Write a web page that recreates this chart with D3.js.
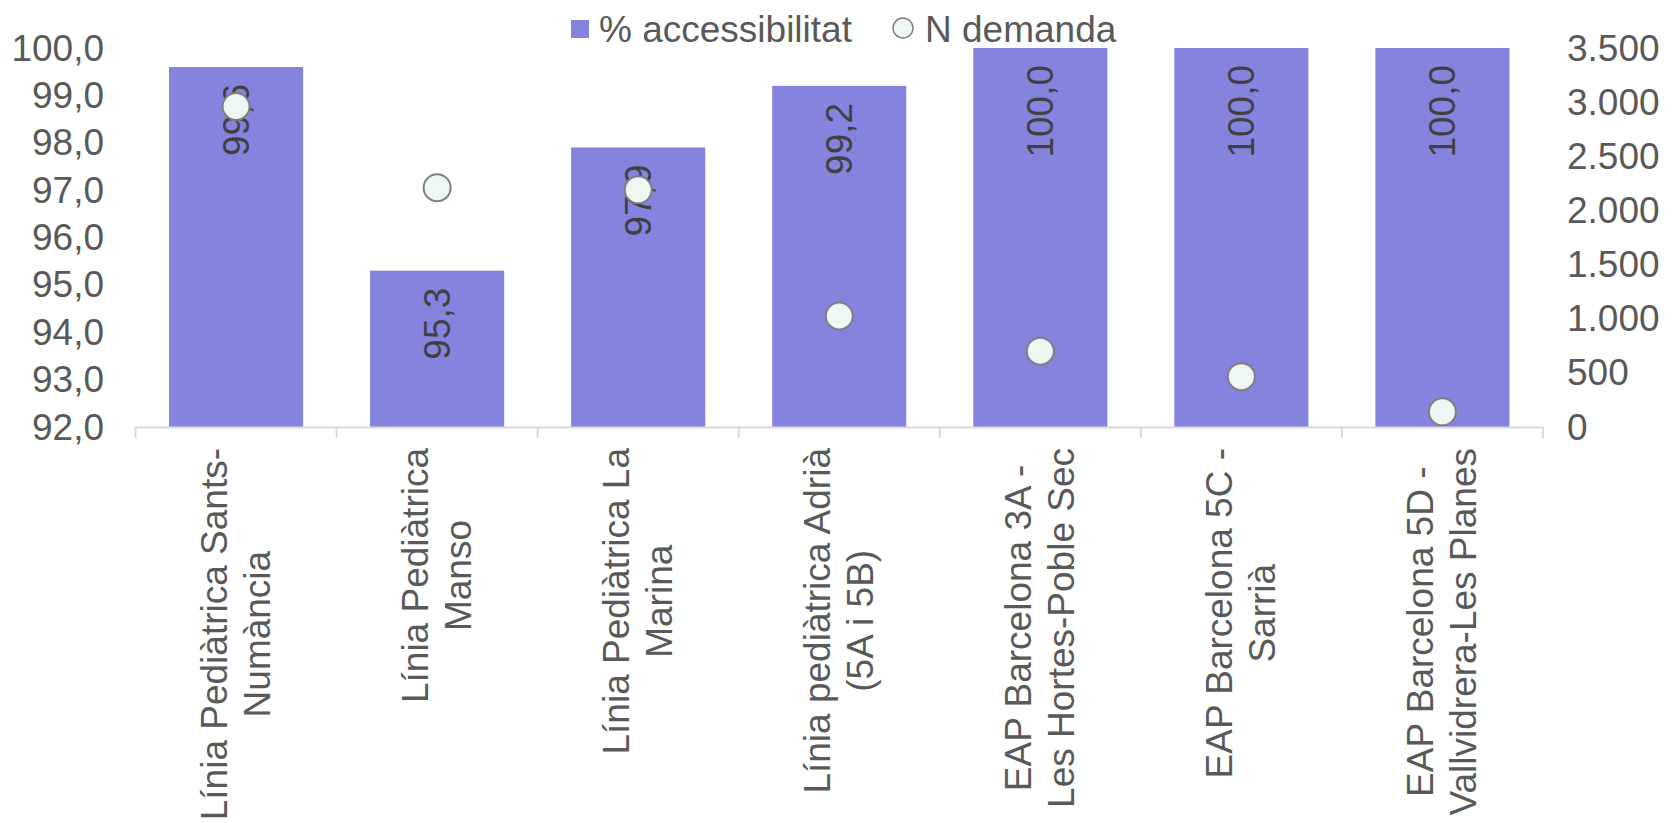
<!DOCTYPE html>
<html>
<head>
<meta charset="utf-8">
<script src="https://cdn.jsdelivr.net/npm/d3@7"></script>
<style>
    body { margin: 0; background: #fff; }
    svg text { font-family: "Liberation Sans", Arial, sans-serif; }
</style>
</head>
<body>
<svg id="chart" width="1673" height="823"></svg>
<script>
// categories (each one split in the two lines shown under the axis)
var categories = [
    ["Línia Pediàtrica Sants-", "Numància"],
    ["Línia Pediàtrica", "Manso"],
    ["Línia Pediàtrica La", "Marina"],
    ["Línia pediàtrica Adrià", "(5A i 5B)"],
    ["EAP Barcelona 3A -", "Les Hortes-Poble Sec"],
    ["EAP Barcelona 5C -", "Sarrià"],
    ["EAP Barcelona 5D -", "Vallvidrera-Les Planes"]
];
var accessibilitat = [99.6, 95.3, 97.9, 99.2, 100.0, 100.0, 100.0];
var demanda = [2960, 2210, 2190, 1025, 700, 465, 140];

var leftTicks = [92, 93, 94, 95, 96, 97, 98, 99, 100];
var rightTicks = [0, 500, 1000, 1500, 2000, 2500, 3000, 3500];

var seriesNames = ["% accessibilitat", "N demanda"];

var draw = {

    colors: {
        bar: "#8483de",
        dotFill: "#eef7f1",
        dotStroke: "#7f7f7f",
        axis: "#d9d9d9",
        tick: "#595959",
        label: "#404040"
    },

    index: function () {
        var locale = d3.formatLocale({decimal: ",", thousands: ".", grouping: [3], currency: ["", " €"]});
        var fmtLeft = locale.format(".1f");
        var fmtRight = locale.format(",d");

        var margin = {top: 48, left: 135.5, right: 130, bottom: 396};
        var width = 1673 - margin.left - margin.right;
        var baseY = 427;

        var svg = d3.select("#chart");
        var ids = d3.range(categories.length);

        var x = d3.scaleBand()
            .domain(ids)
            .range([margin.left, margin.left + width])
            .paddingInner(0.333)
            .paddingOuter(0.1667);

        var y = d3.scaleLinear().domain([92, 100]).range([baseY, margin.top]);
        var y2 = d3.scaleLinear().domain([0, 3500]).range([baseY, margin.top]);

        // bars
        svg.append("g").selectAll("rect")
            .data(ids)
            .enter().append("rect")
            .attr("x", function (i) { return x(i); })
            .attr("width", x.bandwidth())
            .attr("y", function (i) { return y(accessibilitat[i]); })
            .attr("height", function (i) { return baseY - y(accessibilitat[i]); })
            .attr("fill", draw.colors.bar);

        // x axis line + ticks at band edges
        var step = x.step();
        var axis = svg.append("g");
        axis.append("line")
            .attr("x1", margin.left).attr("x2", margin.left + width)
            .attr("y1", baseY + 0.5).attr("y2", baseY + 0.5)
            .attr("stroke", draw.colors.axis).attr("stroke-width", 2);
        axis.selectAll("line.tk")
            .data(d3.range(categories.length + 1))
            .enter().append("line")
            .attr("class", "tk")
            .attr("x1", function (i) { return margin.left + i * step; })
            .attr("x2", function (i) { return margin.left + i * step; })
            .attr("y1", baseY).attr("y2", baseY + 11)
            .attr("stroke", draw.colors.axis).attr("stroke-width", 2);

        // left axis labels
        svg.append("g").selectAll("text")
            .data(leftTicks)
            .enter().append("text")
            .attr("x", 104)
            .attr("y", function (d) { return y(d); })
            .attr("text-anchor", "end")
            .attr("dominant-baseline", "central")
            .attr("font-size", 37)
            .attr("fill", draw.colors.tick)
            .text(function (d) { return fmtLeft(d); });

        // right axis labels
        svg.append("g").selectAll("text")
            .data(rightTicks)
            .enter().append("text")
            .attr("x", 1567)
            .attr("y", function (d) { return y2(d); })
            .attr("text-anchor", "start")
            .attr("dominant-baseline", "central")
            .attr("font-size", 37)
            .attr("fill", draw.colors.tick)
            .text(function (d) { return fmtRight(d); });

        // category labels, rotated, lines centred on each other
        var lineGap = 43;
        ids.forEach(function (i) {
            var cx = x(i) + x.bandwidth() / 2;
            var g = svg.append("g")
                .attr("transform", "translate(" + cx + "," + 448 + ") rotate(-90)");
            var texts = g.selectAll("text")
                .data(categories[i])
                .enter().append("text")
                .attr("y", function (d, k) { return (k - (categories[i].length - 1) / 2) * lineGap; })
                .attr("text-anchor", "middle")
                .attr("dominant-baseline", "central")
                .attr("font-size", 37)
                .attr("fill", draw.colors.tick)
                .text(function (d) { return d; });
            var maxW = 0;
            texts.each(function () { maxW = Math.max(maxW, this.getComputedTextLength()); });
            texts.attr("x", -maxW / 2);
        });

        // value labels inside bar top
        svg.append("g").selectAll("text")
            .data(ids)
            .enter().append("text")
            .attr("transform", function (i) {
                return "translate(" + (x(i) + x.bandwidth() / 2) + "," + (y(accessibilitat[i]) + 17) + ") rotate(-90)";
            })
            .attr("text-anchor", "end")
            .attr("dominant-baseline", "central")
            .attr("font-size", 37)
            .attr("fill", draw.colors.label)
            .text(function (i) { return fmtLeft(accessibilitat[i]); });

        // demand dots on secondary axis
        svg.append("g").selectAll("circle")
            .data(ids)
            .enter().append("circle")
            .attr("cx", function (i) { return x(i) + x.bandwidth() / 2; })
            .attr("cy", function (i) { return y2(demanda[i]); })
            .attr("r", 13.5)
            .attr("fill", draw.colors.dotFill)
            .attr("stroke", draw.colors.dotStroke)
            .attr("stroke-width", 2);

        // legend
        var lg = svg.append("g");
        lg.append("rect")
            .attr("x", 571).attr("y", 20).attr("width", 18).attr("height", 18)
            .attr("fill", draw.colors.bar);
        lg.append("text")
            .attr("x", 599).attr("y", 42)
            .attr("font-size", 37).attr("fill", draw.colors.tick)
            .text(seriesNames[0]);
        lg.append("circle")
            .attr("cx", 903).attr("cy", 28).attr("r", 10)
            .attr("fill", draw.colors.dotFill)
            .attr("stroke", draw.colors.dotStroke).attr("stroke-width", 1.5);
        lg.append("text")
            .attr("x", 925).attr("y", 42)
            .attr("font-size", 37).attr("fill", draw.colors.tick)
            .text(seriesNames[1]);
    }
};

draw.index();
</script>
</body>
</html>
